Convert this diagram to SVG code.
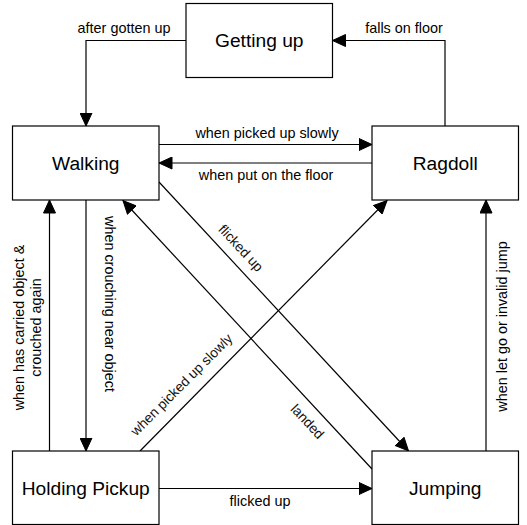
<svg xmlns="http://www.w3.org/2000/svg" width="527" height="525" viewBox="0 0 527 525">
<style>
.node rect{fill:#fff;stroke:#000;stroke-width:1.2}
.node text{font-family:"Liberation Sans",Arial,Helvetica,sans-serif;font-size:19.2px;fill:#000;text-anchor:middle}
.edges path{fill:none;stroke:#000;stroke-width:1.2;marker-end:url(#arr)}
.lbl{font-family:"Liberation Sans",Arial,Helvetica,sans-serif;font-size:14.4px;fill:#000;text-anchor:middle}
.dlbl{font-family:"Liberation Sans",Arial,Helvetica,sans-serif;font-size:13.8px;fill:#111;text-anchor:middle}
</style>
<defs>
<marker id="arr" markerUnits="userSpaceOnUse" markerWidth="14" markerHeight="13" viewBox="0 0 14 13" refX="13.5" refY="6.5" orient="auto">
<path d="M0.5,0.5 L13.5,6.5 L0.5,12.5 Z" fill="#000" stroke="#000" stroke-width="1"/>
</marker>
</defs>
<rect width="527" height="525" fill="#fff"/>
<g class="edges" id="connectors">
<path d="M186,40.5 H86 V126"/>
<path d="M445,126 V40.5 H332.5"/>
<path d="M159,144.5 H372"/>
<path d="M372,163 H159"/>
<path d="M49.5,451 V200"/>
<path d="M86,200 V451"/>
<path d="M159,182 L408.5,451"/>
<path d="M372,469 L123,200.5"/>
<path d="M140,451 L387,200.5"/>
<path d="M486,451 V200"/>
<path d="M159,488.5 H372"/>
</g>
<g id="edge-labels">
<text class="lbl" x="124" y="32.5">after gotten up</text>
<text class="lbl" x="404" y="32.5">falls on floor</text>
<text class="lbl" x="267" y="138">when picked up slowly</text>
<text class="lbl" x="266" y="179.5">when put on the floor</text>
<text class="lbl" x="260" y="505.5">flicked up</text>
<text class="lbl" transform="translate(27.5,327.5) rotate(-90)"><tspan x="0" y="-3.5">when has carried object &amp;</tspan><tspan x="0" y="13">crouched again</tspan></text>
<text class="lbl" transform="translate(109.5,304) rotate(90)" x="0" y="5">when crouching near object</text>
<text class="lbl" transform="translate(501.5,326.5) rotate(-90)" x="0" y="5">when let go or invalid jump</text>
<text class="dlbl" transform="translate(241,248) rotate(47)" x="0" y="4.8">flicked up</text>
<text class="dlbl" transform="translate(307.5,421.5) rotate(47)" x="0" y="4.8">landed</text>
<text class="dlbl" transform="translate(181.5,384.5) rotate(-45)" x="0" y="4.8">when picked up slowly</text>
</g>
<g class="node" id="getting-up"><rect x="186" y="3.5" width="146.5" height="74"/><text x="259.25" y="47.2">Getting up</text></g>
<g class="node" id="walking"><rect x="12.5" y="126" width="146.5" height="74"/><text x="85.75" y="169.7">Walking</text></g>
<g class="node" id="ragdoll"><rect x="372" y="126" width="146.5" height="74"/><text x="445.25" y="169.7">Ragdoll</text></g>
<g class="node" id="holding-pickup"><rect x="12.5" y="451" width="146.5" height="73.5"/><text x="85.75" y="494.5">Holding Pickup</text></g>
<g class="node" id="jumping"><rect x="372" y="451" width="146.5" height="73.5"/><text x="445.25" y="494.5">Jumping</text></g>
</svg>
